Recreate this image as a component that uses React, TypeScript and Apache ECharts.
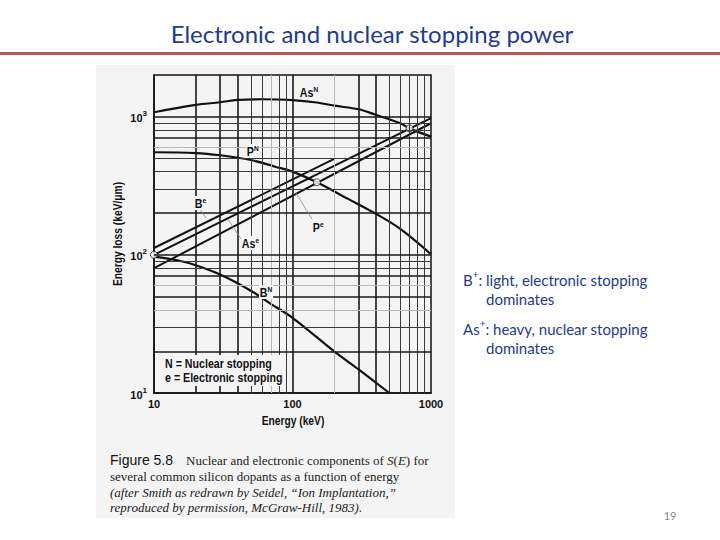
import React, { useEffect, useRef } from "react";
import * as echarts from "echarts";

// ---- data ----
const asNEnergy = [10, 20, 30, 40, 60, 100, 150, 200, 300, 400, 600, 700, 1000];
const asNLoss = [1075, 1215, 1270, 1320, 1335, 1318, 1265, 1200, 1130, 1030, 894, 822, 716];

const pNEnergy = [10, 20, 30, 50, 75, 100, 150, 250, 400, 600, 1000];
const pNLoss = [552, 545, 525, 485, 434, 400, 335, 255, 198, 154, 101];

const bNEnergy = [10, 15, 20, 30, 50, 70, 100, 200, 300, 500];
const bNLoss = [97, 91, 84, 72, 55, 44, 35, 20, 14.8, 10];

const bEEnergy = [10, 200];
const bELoss = [112, 495];
const asEEnergy = [10, 1000];
const asELoss = [100, 975];
const pEEnergy = [10, 1000];
const pELoss = [80, 895];

const crossEnergy = [10, 150, 700];
const crossLoss = [100, 335, 822];

const gridXValues = [20, 30, 40, 50, 60, 70, 80, 90, 100, 200, 300, 400, 500, 600, 700, 800, 900];
const gridXWeights = ["b", "b", "b", "m", "m", "l", "m", "m", "b", "l", "b", "b", "m", "m", "m", "m", "m"];
const gridYValues = [20, 30, 40, 50, 60, 70, 80, 90, 100, 200, 300, 400, 500, 600, 700, 800, 900, 1000];
const gridYWeights = ["b", "m", "l", "b", "l", "b", "m", "m", "b", "b", "m", "m", "m", "l", "b", "m", "m", "b"];

const captionLines = [
  "several common silicon dopants as a function of energy",
  "(after Smith as redrawn by Seidel, \u201cIon Implantation,\u201d",
  "reproduced by permission, McGraw-Hill, 1983).",
];

const zip = (a: number[], b: number[]) => a.map((v, i) => [v, b[i]]);

const sans = "'Liberation Sans', Arial, sans-serif";
const serif = "'Liberation Serif', 'DejaVu Serif', serif";
const slideFont = "Lato, 'Open Sans', sans-serif";
const blue = "#1f3a8f";
const paper = "#f4f4f4";
const squeeze = 0.82;

const weightStyle = (w: string) =>
  w === "b"
    ? { color: "#1a1a1a", width: 1.6, type: "solid" }
    : w === "m"
    ? { color: "#3a3a3a", width: 1, type: "solid" }
    : { color: "#b8b8b8", width: 1, type: "solid" };

function supLabel(x: number, y: number, base: string, sup: string) {
  return {
    type: "text",
    x,
    y,
    z: 100,
    scaleX: squeeze,
    style: {
      text: `{b|${base}}{s|${sup}}`,
      backgroundColor: paper,
      padding: [0, 1, 0, 1],
      rich: {
        b: { fontFamily: sans, fontWeight: "bold", fontSize: 13, lineHeight: 14, verticalAlign: "bottom", fill: "#111" },
        s: { fontFamily: sans, fontWeight: "bold", fontSize: 8, lineHeight: 8, verticalAlign: "top", fill: "#111" },
      },
    },
  };
}

function slideText(x: number, y: number, base: string, sup: string, rest: string) {
  return {
    type: "text",
    x,
    y,
    z: 100,
    style: {
      text: `{t|${base}}{s|${sup}}{t|${rest}}`,
      rich: {
        t: { fontFamily: slideFont, fontSize: 15, lineHeight: 18, verticalAlign: "bottom", fill: blue },
        s: { fontFamily: slideFont, fontSize: 10, lineHeight: 14, verticalAlign: "top", fill: blue },
      },
    },
  };
}

export default function App() {
  const ref = useRef<HTMLDivElement>(null);
  useEffect(() => {
    const chart = echarts.init(ref.current!, null, { renderer: "svg" });
    const lineStyleBase = { color: "#111", width: 2.2 };
    const option: any = {
      animation: false,
      backgroundColor: "#ffffff",
      grid: {
        left: 154,
        top: 75,
        width: 277,
        height: 318,
        show: true,
        borderColor: "#111",
        borderWidth: 1.5,
        backgroundColor: "transparent",
      },
      xAxis: {
        type: "log",
        logBase: 10,
        min: 10,
        max: 1000,
        splitLine: { show: false },
        axisTick: { show: false },
        axisLine: { show: true, lineStyle: { color: "#111", width: 1.5 } },
        axisLabel: {
          margin: 5,
          fontFamily: sans,
          fontWeight: "bold",
          fontSize: 11,
          color: "#111",
          formatter: (v: number) => String(Math.round(v)),
        },
      },
      yAxis: {
        type: "log",
        logBase: 10,
        min: 10,
        max: 2000,
        splitLine: { show: false },
        axisTick: { show: false },
        axisLine: { show: true, lineStyle: { color: "#111", width: 1.5 } },
        axisLabel: {
          margin: 7,
          showMaxLabel: false,
          fontFamily: sans,
          fontWeight: "bold",
          fontSize: 11,
          lineHeight: 14,
          color: "#111",
          formatter: (v: number) => {
            const p = Math.round(Math.log10(v));
            if (Math.abs(Math.log10(v) - p) > 0.01) return "";
            return `{b|10}{s|${p}}`;
          },
          rich: {
            b: { fontFamily: sans, fontWeight: "bold", fontSize: 11, lineHeight: 14, verticalAlign: "bottom", color: "#111" },
            s: { fontFamily: sans, fontWeight: "bold", fontSize: 8, lineHeight: 9, verticalAlign: "top", color: "#111" },
          },
        },
      },
      series: [
        {
          name: "grid",
          type: "line",
          z: 1,
          data: [],
          silent: true,
          markLine: {
            silent: true,
            symbol: ["none", "none"],
            label: { show: false },
            data: [
              ...gridXValues.map((v, i) => ({ xAxis: v, lineStyle: weightStyle(gridXWeights[i]) })),
              ...gridYValues.map((v, i) => ({ yAxis: v, lineStyle: weightStyle(gridYWeights[i]) })),
            ],
          },
        },
        { name: "AsN", type: "line", z: 3, smooth: 0.35, showSymbol: false, lineStyle: lineStyleBase, data: zip(asNEnergy, asNLoss) },
        { name: "PN", type: "line", z: 3, smooth: 0.35, showSymbol: false, lineStyle: lineStyleBase, data: zip(pNEnergy, pNLoss) },
        { name: "BN", type: "line", z: 3, smooth: 0.35, showSymbol: false, lineStyle: lineStyleBase, data: zip(bNEnergy, bNLoss) },
        { name: "Be", type: "line", z: 3, showSymbol: false, lineStyle: { color: "#111", width: 2 }, data: zip(bEEnergy, bELoss) },
        { name: "Ase", type: "line", z: 3, showSymbol: false, lineStyle: { color: "#111", width: 2 }, data: zip(asEEnergy, asELoss) },
        { name: "Pe", type: "line", z: 3, showSymbol: false, lineStyle: { color: "#111", width: 2 }, data: zip(pEEnergy, pELoss) },
        {
          name: "cross",
          type: "scatter",
          z: 4,
          clip: false,
          symbol: "circle",
          symbolSize: 7,
          itemStyle: { color: "#ffffff", borderColor: "#222", borderWidth: 1 },
          data: zip(crossEnergy, crossLoss),
        },
      ],
      graphic: [
        { type: "rect", z: -1, shape: { x: 96, y: 65, width: 359, height: 453 }, style: { fill: paper } },
        {
          type: "text",
          z: 100,
          x: 372,
          y: 33,
          style: { text: "Electronic and nuclear stopping power", fontFamily: slideFont, fontSize: 24, fill: blue, align: "center", verticalAlign: "middle" },
        },
        { type: "rect", z: 100, shape: { x: 0, y: 52, width: 720, height: 3 }, style: { fill: "#bc5a54" } },
        // axis names
        {
          type: "text",
          z: 100,
          x: 293,
          y: 421,
          scaleX: squeeze,
          style: { text: "Energy (keV)", fontFamily: sans, fontWeight: "bold", fontSize: 12.5, fill: "#111", align: "center", verticalAlign: "middle" },
        },
        {
          type: "text",
          z: 100,
          x: 118,
          y: 234,
          rotation: Math.PI / 2,
          scaleX: squeeze,
          style: { text: "Energy loss (keV/\u03bcm)", fontFamily: sans, fontWeight: "bold", fontSize: 12.5, fill: "#111", align: "center", verticalAlign: "middle" },
        },
        // curve labels
        supLabel(299, 85, "As", "N"),
        supLabel(246, 144, "P", "N"),
        supLabel(194, 196, "B", "e"),
        supLabel(241, 236, "As", "e"),
        supLabel(312, 220, "P", "e"),
        supLabel(259, 285, "B", "N"),
        // pointer lines
        { type: "line", z: 99, shape: { x1: 312, y1: 219, x2: 296, y2: 193 }, style: { stroke: "#888", lineWidth: 0.8 } },
        { type: "line", z: 99, shape: { x1: 241, y1: 239, x2: 228, y2: 219 }, style: { stroke: "#888", lineWidth: 0.8 } },
        { type: "line", z: 99, shape: { x1: 199, y1: 208, x2: 206, y2: 218 }, style: { stroke: "#888", lineWidth: 0.8 } },
        // legend
        { type: "rect", z: 90, shape: { x: 160, y: 355, width: 122, height: 31 }, style: { fill: paper } },
        {
          type: "text",
          z: 100,
          x: 165,
          y: 357,
          scaleX: squeeze,
          style: { text: "N = Nuclear stopping", fontFamily: sans, fontWeight: "bold", fontSize: 13, fill: "#111" },
        },
        {
          type: "text",
          z: 100,
          x: 165,
          y: 371,
          scaleX: squeeze,
          style: { text: "e = Electronic stopping", fontFamily: sans, fontWeight: "bold", fontSize: 13, fill: "#111" },
        },
        // caption
        {
          type: "text",
          z: 100,
          x: 110,
          y: 460,
          style: {
            text: "{f|Figure 5.8}{t|    Nuclear and electronic components of }{i|S}{t|(}{i|E}{t|) for}",
            verticalAlign: "middle",
            rich: {
              f: { fontFamily: sans, fontSize: 14, fill: "#111" },
              t: { fontFamily: serif, fontSize: 13, fill: "#222" },
              i: { fontFamily: serif, fontSize: 13, fontStyle: "italic", fill: "#222" },
            },
          },
        },
        {
          type: "text",
          z: 100,
          x: 110,
          y: 476,
          style: { text: captionLines[0], fontFamily: serif, fontSize: 13, fill: "#222", verticalAlign: "middle" },
        },
        {
          type: "text",
          z: 100,
          x: 110,
          y: 492,
          style: { text: captionLines[1], fontFamily: serif, fontStyle: "italic", fontSize: 13, fill: "#222", verticalAlign: "middle" },
        },
        {
          type: "text",
          z: 100,
          x: 110,
          y: 507,
          style: { text: captionLines[2], fontFamily: serif, fontStyle: "italic", fontSize: 13, fill: "#222", verticalAlign: "middle" },
        },
        // slide side text
        slideText(463, 269, "B", "+", ": light, electronic stopping"),
        { type: "text", z: 100, x: 486, y: 291, style: { text: "dominates", fontFamily: slideFont, fontSize: 15, fill: blue } },
        slideText(463, 318, "As", "+", ": heavy, nuclear stopping"),
        { type: "text", z: 100, x: 486, y: 340, style: { text: "dominates", fontFamily: slideFont, fontSize: 15, fill: blue } },
        {
          type: "text",
          z: 100,
          x: 670,
          y: 515,
          style: { text: "19", fontFamily: slideFont, fontSize: 11, fill: "#8a8a8a", align: "center", verticalAlign: "middle" },
        },
      ],
    };
    chart.setOption(option);
    return () => chart.dispose();
  }, []);
  return <div ref={ref} style={{ position: "absolute", left: 0, top: 0, width: 720, height: 540 }} />;
}
